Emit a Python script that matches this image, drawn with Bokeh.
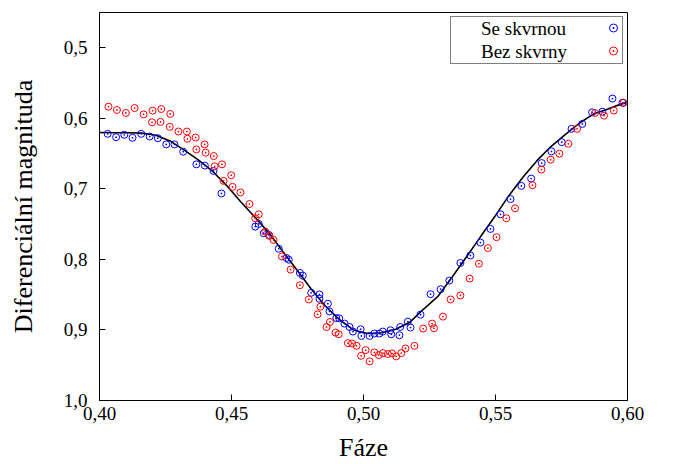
from bokeh.plotting import figure
from bokeh.models import Range1d, FixedTicker, CustomJSTickFormatter, Legend
from bokeh.embed import file_html
from bokeh.resources import INLINE

# --- data ---
phase_spot = [0.4031, 0.4063, 0.4094, 0.4125, 0.4158, 0.4190, 0.4221, 0.4253, 0.4284, 0.4317,
              0.4367, 0.4399, 0.4432, 0.4462, 0.4590, 0.4603, 0.4622, 0.4641, 0.4679, 0.4708,
              0.4717, 0.4759, 0.4770, 0.4802, 0.4833, 0.4833, 0.4865, 0.4871, 0.4897, 0.4908,
              0.4928, 0.4947, 0.4960, 0.4989, 0.4992, 0.5023, 0.5041, 0.5060, 0.5073, 0.5102,
              0.5105, 0.5136, 0.5139, 0.5168, 0.5178, 0.5216, 0.5254, 0.5292, 0.5325, 0.5367,
              0.5405, 0.5443, 0.5481, 0.5519, 0.5557, 0.5598, 0.5635, 0.5675, 0.5712, 0.5751,
              0.5788, 0.5829, 0.5866, 0.5905, 0.5943, 0.5981]
mag_spot = [0.6220, 0.6268, 0.6234, 0.6276, 0.6220, 0.6258, 0.6282, 0.6370, 0.6370, 0.6473,
            0.6652, 0.6670, 0.6746, 0.7065, 0.7535, 0.7497, 0.7628, 0.7652, 0.7849, 0.7980,
            0.8004, 0.8192, 0.8230, 0.8473, 0.8497, 0.8558, 0.8628, 0.8737, 0.8831, 0.8835,
            0.8910, 0.8958, 0.9023, 0.8990, 0.9085, 0.9085, 0.9051, 0.9051, 0.9023, 0.9004,
            0.9061, 0.9075, 0.8958, 0.8882, 0.8966, 0.8783, 0.8493, 0.8423, 0.8300, 0.8051,
            0.7944, 0.7761, 0.7568, 0.7361, 0.7145, 0.6958, 0.6854, 0.6634, 0.6469, 0.6338,
            0.6149, 0.6079, 0.5915, 0.5906, 0.5720, 0.5780]

phase_nospot = [0.4034, 0.4066, 0.4100, 0.4133, 0.4167, 0.4201, 0.4234, 0.4268, 0.4199, 0.4231,
                0.4266, 0.4299, 0.4331, 0.4333, 0.4364, 0.4398, 0.4367, 0.4402, 0.4433, 0.4464,
                0.4436, 0.4499, 0.4470, 0.4504, 0.4534, 0.4568, 0.4603, 0.4590, 0.4628, 0.4644,
                0.4659, 0.4691, 0.4724, 0.4759, 0.4793, 0.4837, 0.4826, 0.4873, 0.4860, 0.4894,
                0.4906, 0.4941, 0.4957, 0.4974, 0.5008, 0.4991, 0.5023, 0.5041, 0.5058, 0.5074,
                0.5092, 0.5108, 0.5124, 0.5143, 0.5159, 0.5193, 0.5226, 0.5260, 0.5267, 0.5301,
                0.5330, 0.5367, 0.5402, 0.5437, 0.5471, 0.5504, 0.5541, 0.5574, 0.5640, 0.5674,
                0.5709, 0.5742, 0.5776, 0.5809, 0.5877, 0.5911, 0.5948, 0.5985]
mag_nospot = [0.5835, 0.5882, 0.5924, 0.5854, 0.5944, 0.5892, 0.5868, 0.5938, 0.6056, 0.6051,
              0.6121, 0.6187, 0.6187, 0.6290, 0.6272, 0.6370, 0.6441, 0.6487, 0.6535, 0.6652,
              0.6680, 0.6807, 0.6887, 0.6972, 0.7051, 0.7215, 0.7361, 0.7417, 0.7606, 0.7666,
              0.7723, 0.7958, 0.8145, 0.8366, 0.8568, 0.8670, 0.8779, 0.8887, 0.8958, 0.9037,
              0.9061, 0.9187, 0.9192, 0.9225, 0.9286, 0.9366, 0.9445, 0.9318, 0.9356, 0.9328,
              0.9342, 0.9332, 0.9375, 0.9328, 0.9262, 0.9225, 0.8980, 0.8910, 0.8976, 0.8811,
              0.8568, 0.8511, 0.8272, 0.8061, 0.7839, 0.7685, 0.7417, 0.7276, 0.6948, 0.6727,
              0.6586, 0.6501, 0.6361, 0.6149, 0.5924, 0.5962, 0.5890, 0.5780]

fit_phase = [0.4000, 0.4053, 0.4107, 0.4160, 0.4214, 0.4267, 0.4321, 0.4374, 0.4428, 0.4481,
             0.4534, 0.4588, 0.4641, 0.4695, 0.4748, 0.4802, 0.4855, 0.4908, 0.4962, 0.5015,
             0.5069, 0.5122, 0.5176, 0.5229, 0.5283, 0.5336, 0.5389, 0.5443, 0.5496, 0.5550,
             0.5603, 0.5657, 0.5710, 0.5764, 0.5817, 0.5871, 0.5924, 0.5960, 0.6000]
fit_mag = [0.620, 0.6205, 0.6205, 0.621, 0.624, 0.632, 0.645, 0.659, 0.675, 0.695,
           0.718, 0.740, 0.762, 0.789, 0.815, 0.842, 0.866, 0.885, 0.900, 0.905,
           0.904, 0.899, 0.889, 0.870, 0.852, 0.825, 0.797, 0.768, 0.740, 0.710,
           0.684, 0.660, 0.640, 0.623, 0.607, 0.594, 0.587, 0.582, 0.577]

x_ticks = [0.40, 0.45, 0.50, 0.55, 0.60]
y_ticks = [0.5, 0.6, 0.7, 0.8, 0.9, 1.0]
series_names = ["Se skvrnou", "Bez skvrny"]
x_title = "Fáze"
y_title = "Diferenciální magnituda"

FONT = "Liberation Serif"

p = figure(width=679, height=464, output_backend="svg", toolbar_location=None,
           x_range=Range1d(0.40, 0.60), y_range=Range1d(1.0, 0.45),
           min_border_left=99, min_border_right=52, min_border_top=12,
           min_border_bottom=62)

p.grid.visible = False
p.background_fill_color = "white"
p.border_fill_color = "white"
p.outline_line_color = "black"
p.outline_line_width = 1
p.outline_line_alpha = 1

p.line(fit_phase, fit_mag, line_color="black", line_width=1.6)
r1 = p.scatter(phase_spot, mag_spot, marker="circle_dot", size=7, fill_color=None,
               line_color="#0000ff", line_width=1)
r2 = p.scatter(phase_nospot, mag_nospot, marker="circle_dot", size=7, fill_color=None,
               line_color="#ff0000", line_width=1)
# invisible stand-in renderers so the legend text can sit left of the markers
d1 = p.scatter([], [], marker="circle_dot", size=7, line_alpha=0, fill_alpha=0)
d2 = p.scatter([], [], marker="circle_dot", size=7, line_alpha=0, fill_alpha=0)

for ax in (p.xaxis[0], p.yaxis[0]):
    ax.axis_line_color = "black"
    ax.major_tick_in = 6
    ax.major_tick_out = 0
    ax.minor_tick_line_color = None
    ax.major_tick_line_color = "black"
    ax.major_label_text_font = FONT
    ax.major_label_text_font_size = "19px"
    ax.major_label_text_color = "black"
    ax.axis_label_text_font = FONT
    ax.axis_label_text_font_style = "normal"
    ax.axis_label_text_font_size = "26px"
    ax.axis_label_text_color = "black"

p.xaxis.ticker = FixedTicker(ticks=x_ticks)
p.yaxis.ticker = FixedTicker(ticks=y_ticks)
p.xaxis.formatter = CustomJSTickFormatter(code="return tick.toFixed(2).replace('.', ',');")
p.yaxis.formatter = CustomJSTickFormatter(code="return tick.toFixed(1).replace('.', ',');")
p.xaxis.axis_label = x_title
p.yaxis.axis_label = y_title
p.xaxis.major_label_standoff = 6
p.xaxis.axis_label_standoff = 10
p.yaxis.major_label_standoff = 12
p.yaxis.axis_label_standoff = 23

ROW = 23

def style_legend(lg):
    lg.location = "top_right"
    lg.label_text_font = FONT
    lg.label_text_font_size = "19px"
    lg.label_text_color = "black"
    lg.padding = 0
    lg.spacing = 0
    lg.margin = 4
    lg.glyph_height = ROW
    lg.label_height = ROW

# box with the texts
legend_text = Legend(items=[(series_names[0], [d1]), (series_names[1], [d2])])
style_legend(legend_text)
legend_text.border_line_color = "black"
legend_text.border_line_width = 1
legend_text.background_fill_color = "white"
legend_text.background_fill_alpha = 1
legend_text.glyph_width = 28
legend_text.label_standoff = 2
legend_text.label_width = 141
p.add_layout(legend_text)

# markers at the right end of the box
legend_marks = Legend(items=[(" ", [r1]), (" ", [r2])])
style_legend(legend_marks)
legend_marks.border_line_alpha = 0
legend_marks.background_fill_alpha = 0
legend_marks.glyph_width = 20
legend_marks.label_standoff = 0
legend_marks.label_width = 0
p.add_layout(legend_marks)

open("out.html", "w").write(file_html(p, INLINE))
